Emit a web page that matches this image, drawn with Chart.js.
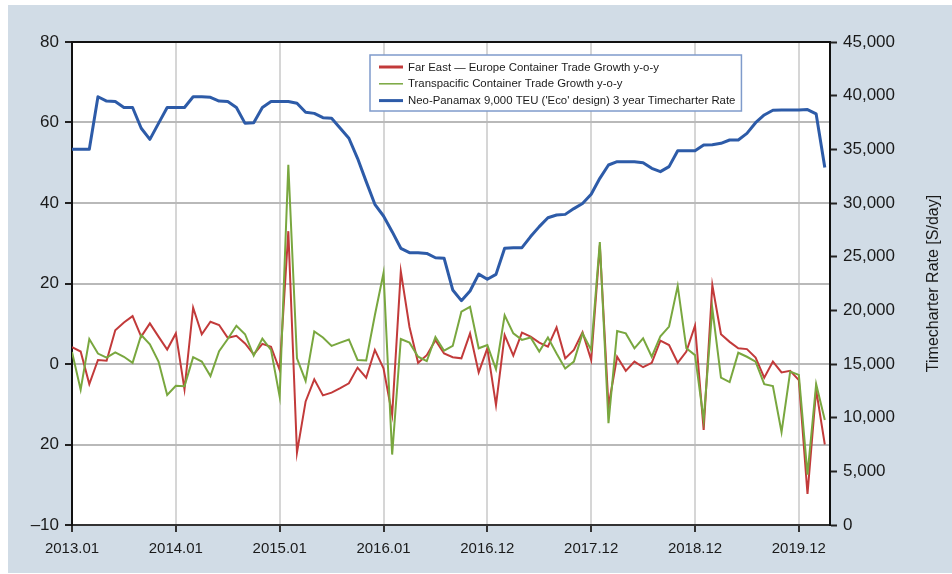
<!DOCTYPE html>
<html>
<head>
<meta charset="utf-8">
<script src="https://cdn.jsdelivr.net/npm/chart.js@4.4.1/dist/chart.umd.min.js"></script>
<style>
  html, body { margin: 0; padding: 0; background: #fff; }
  #wrap { width: 952px; height: 574px; }
</style>
</head>
<body>
<div id="wrap"><canvas id="chart" width="952" height="574"></canvas></div>
<script>
// monthly index, 0 = 2013.01
const xTickPos = [0, 12, 24, 36, 48, 60, 72, 84];
const xTickLabels = ['2013.01', '2014.01', '2015.01', '2016.01', '2016.12', '2017.12', '2018.12', '2019.12'];

// left axis labels, bottom to top (as printed on the original)
const yLeftTickLabels = ['–10', '20', '0', '20', '40', '60', '80'];
const yRightTickLabels = ['0', '5,000', '10,000', '15,000', '20,000', '25,000', '30,000', '35,000', '40,000', '45,000'];

const farEastEurope = [
  4.2, 3.1, -5.0, 1.0, 0.8, 8.4, 10.3, 11.9, 6.8, 10.1, 6.8, 3.6,
  7.6, -6.3, 14.0, 7.4, 10.5, 9.7, 6.5, 7.0, 5.1, 2.4, 5.0, 4.3,
  -1.5, 33.0, -22.0, -9.3, -3.8, -7.8, -7.1, -6.0, -4.8, -0.9, -3.4, 3.5,
  -1.1, -12.6, 23.0, 9.2, 0.3, 2.2, 5.9, 2.6, 1.7, 1.4, 7.6, -2.1,
  3.9, -10.2, 7.2, 2.1, 7.8, 6.8, 5.3, 4.3, 9.1, 1.4, 3.5, 7.9,
  1.0, 29.5, -10.5, 1.8, -1.7, 0.6, -0.8, 0.3, 5.8, 4.7, 0.3, 3.1,
  9.5, -16.4, 19.6, 7.4, 5.5, 3.9, 3.7, 1.6, -3.4, 0.6, -2.1, -1.7,
  -4.0, -32.3, -6.4, -20.0
];

const transpacific = [
  3.0, -6.4, 6.2, 2.6, 1.6, 2.9, 1.8, 0.3, 7.2, 4.9, 0.6, -7.7,
  -5.4, -5.5, 1.7, 0.6, -3.0, 3.2, 6.2, 9.5, 7.4, 2.1, 6.3, 3.5,
  -8.1, 49.5, 1.4, -4.2, 8.1, 6.6, 4.5, 5.3, 6.1, 1.0, 0.9, 12.1,
  22.6, -22.5, 6.2, 5.3, 1.8, 0.7, 6.7, 3.3, 4.5, 13.0, 14.2, 3.9,
  4.7, -1.3, 12.1, 7.6, 6.0, 6.6, 3.1, 6.6, 2.6, -1.1, 0.6, 7.6,
  3.5, 30.3, -14.7, 8.2, 7.6, 3.9, 6.4, 1.8, 6.9, 9.3, 19.4, 3.9,
  2.2, -13.9, 13.8, -3.4, -4.5, 2.8, 1.8, 0.6, -5.0, -5.5, -16.9, -1.9,
  -2.7, -27.5, -5.0, -13.9
];

const timecharterRate = [
  35000, 35000, 35000, 39900, 39500, 39450, 38900, 38900, 36960, 35930, 37420, 38900,
  38900, 38900, 39900, 39900, 39850, 39500, 39450, 38900, 37420, 37470, 38900, 39450,
  39450, 39450, 39300, 38450, 38350, 37950, 37900, 36960, 36030, 34160, 31990, 29880,
  28790, 27330, 25780, 25370, 25370, 25300, 24900, 24860, 21900, 20900, 21800, 23370,
  22890, 23350, 25780, 25840, 25840, 26870, 27800, 28630, 28880, 28940, 29480, 29950,
  30820, 32300, 33540, 33850, 33850, 33850, 33760, 33230, 32920, 33390, 34870, 34870,
  34870, 35400, 35430, 35560, 35870, 35870, 36490, 37480, 38200, 38640, 38670, 38670,
  38670, 38700, 38300, 33300
];

const asPoints = arr => arr.map((v, i) => ({ x: i, y: v }));

const FONT = '"Liberation Sans", Arial, sans-serif';

// background panel + white plot area
const panelBg = {
  id: 'panelBg',
  beforeDraw(chart) {
    const { ctx, chartArea } = chart;
    ctx.save();
    ctx.fillStyle = '#d1dce6';
    ctx.fillRect(8, 5, 944, 568);
    ctx.fillStyle = '#ffffff';
    ctx.fillRect(chartArea.left, chartArea.top, chartArea.right - chartArea.left, chartArea.bottom - chartArea.top);
    ctx.restore();
  },
  afterDraw(chart) {
    const { ctx, chartArea } = chart;
    ctx.save();
    // top frame line
    ctx.strokeStyle = '#111';
    ctx.lineWidth = 2;
    ctx.beginPath();
    ctx.moveTo(chartArea.left - 1, chartArea.top);
    ctx.lineTo(chartArea.right + 1, chartArea.top);
    ctx.stroke();

    // right axis title, reading upwards
    ctx.fillStyle = '#1a1a1a';
    ctx.font = '16px ' + FONT;
    ctx.textAlign = 'center';
    ctx.textBaseline = 'middle';
    ctx.translate(934, (chartArea.top + chartArea.bottom) / 2);
    ctx.rotate(-Math.PI / 2);
    ctx.fillText('Timecharter Rate [S/day]', 0, 0);
    ctx.restore();
  }
};

// boxed legend inside the plot
const boxLegend = {
  id: 'boxLegend',
  afterDraw(chart) {
    const { ctx, chartArea } = chart;
    const sets = chart.data.datasets;
    const x0 = chartArea.left + 298;
    const y0 = chartArea.top + 13;
    ctx.save();
    ctx.font = '11.4px ' + FONT;
    const textW = Math.max(...sets.map(d => ctx.measureText(d.label).width));
    const w = 38 + textW + 6;
    const h = 56;
    ctx.fillStyle = '#fff';
    ctx.fillRect(x0, y0, w, h);
    ctx.strokeStyle = '#7f9bcb';
    ctx.lineWidth = 1.5;
    ctx.strokeRect(x0, y0, w, h);
    sets.forEach((d, i) => {
      const y = y0 + 12 + i * 16.8;
      ctx.strokeStyle = d.borderColor;
      ctx.lineWidth = d.legendWidth;
      ctx.beginPath();
      ctx.moveTo(x0 + 9, y);
      ctx.lineTo(x0 + 33, y);
      ctx.stroke();
      ctx.fillStyle = '#1a1a1a';
      ctx.textBaseline = 'middle';
      ctx.fillText(d.label, x0 + 38, y + 0.5);
    });
    ctx.restore();
  }
};

new Chart(document.getElementById('chart'), {
  type: 'line',
  data: {
    datasets: [
      {
        label: 'Far East — Europe Container Trade Growth y-o-y',
        data: asPoints(farEastEurope),
        borderColor: '#c23a3a',
        borderWidth: 2,
        legendWidth: 3,
        pointRadius: 0,
        tension: 0,
        yAxisID: 'y',
        order: 2
      },
      {
        label: 'Transpacific Container Trade Growth y-o-y',
        data: asPoints(transpacific),
        borderColor: '#79a73f',
        borderWidth: 2,
        legendWidth: 1.5,
        pointRadius: 0,
        tension: 0,
        yAxisID: 'y',
        order: 1
      },
      {
        label: "Neo-Panamax 9,000 TEU ('Eco' design) 3 year Timecharter Rate",
        data: asPoints(timecharterRate),
        borderColor: '#2d5ba8',
        borderWidth: 3,
        legendWidth: 3,
        pointRadius: 0,
        tension: 0,
        borderJoinStyle: 'round',
        yAxisID: 'y1',
        order: 0
      }
    ]
  },
  options: {
    responsive: false,
    animation: false,
    layout: { padding: { top: 42, left: 0, right: 0, bottom: 0 } },
    plugins: {
      legend: { display: false },
      tooltip: { enabled: false }
    },
    scales: {
      x: {
        type: 'linear',
        min: 0,
        max: 87.6,
        afterBuildTicks: (scale) => { scale.ticks = xTickPos.map(v => ({ value: v })); },
        afterFit: (scale) => { scale.height = 49; },
        grid: {
          color: '#d6d6d6',
          lineWidth: 2,
          tickColor: '#333',
          tickWidth: 2,
          tickLength: 7
        },
        border: { color: '#333', width: 2 },
        ticks: {
          autoSkip: false,
          maxRotation: 0,
          padding: 8,
          color: '#1a1a1a',
          font: { family: FONT, size: 15 },
          callback: (value, index) => xTickLabels[index]
        }
      },
      y: {
        position: 'left',
        min: -40,
        max: 80,
        ticks: {
          stepSize: 20,
          padding: 6,
          color: '#1a1a1a',
          font: { family: FONT, size: 17 },
          callback: (value, index) => yLeftTickLabels[index]
        },
        afterFit: (scale) => { scale.width = 72; },
        grid: {
          color: '#b9b9b9',
          lineWidth: 2,
          tickColor: '#222',
          tickWidth: 2,
          tickLength: 7
        },
        border: { color: '#111', width: 2 }
      },
      y1: {
        position: 'right',
        min: 0,
        max: 45000,
        ticks: {
          stepSize: 5000,
          padding: 6,
          color: '#1a1a1a',
          font: { family: FONT, size: 17 },
          callback: (value, index) => yRightTickLabels[index]
        },
        afterFit: (scale) => { scale.width = 122; },
        grid: {
          drawOnChartArea: false,
          tickColor: '#222',
          tickWidth: 2,
          tickLength: 7
        },
        border: { color: '#111', width: 2 }
      }
    }
  },
  plugins: [panelBg, boxLegend]
});
</script>
</body>
</html>
